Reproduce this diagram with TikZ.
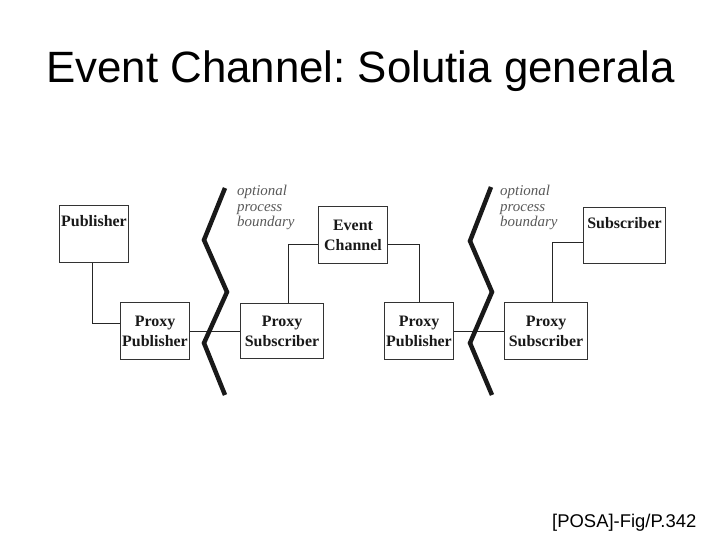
\documentclass[tikz,border=0pt]{standalone}
\usepackage{fontspec}
\setmainfont{Liberation Serif}
\newfontfamily\sansf{Liberation Sans}
\frenchspacing
\begin{document}
\begin{tikzpicture}[x=1bp,y=-1bp,
  box/.style={draw=black!80, line width=1.1pt, fill=white, inner sep=0pt, align=center,
    font=\fontsize{16}{20}\selectfont\bfseries, text=black!90},
  toptxt/.style={anchor=base, inner sep=0pt, font=\fontsize{16}{20}\selectfont\bfseries, text=black!90, yshift=-22pt},
  wire/.style={draw=black!85, line width=1pt},
  zz/.style={draw=black!90, line width=4.5pt, line join=miter},
  note/.style={anchor=north west, inner sep=0pt, align=left,
    font=\fontsize{15}{16}\selectfont\itshape, text=black!65},
]
\useasboundingbox (0,0) rectangle (720,540);
\node[anchor=base, inner sep=0pt, font=\sansf\fontsize{44}{48}\selectfont] (title) at (360.5,83) {Event Channel: Solutia generala};
\node[anchor=base west, inner sep=0pt, font=\sansf\fontsize{18.5}{20}\selectfont] (cap) at (552,527) {[POSA]-Fig/P.342};

\coordinate (pubc) at (94,234);
\coordinate (pp1c) at (155,331);
\coordinate (ps1c) at (282,331);
\coordinate (ecc) at (353,235);
\coordinate (pp2c) at (419,331);
\coordinate (ps2c) at (546,331);
\coordinate (subc) at (624.5,235.5);

\node[box, minimum width=70pt, minimum height=58pt,
  label={[toptxt]north:Publisher}] (pub) at (pubc) {};
\node[box, minimum width=70pt, minimum height=57pt] (pp1) at (pp1c) {Proxy\\Publisher};
\node[box, minimum width=84pt, minimum height=55pt] (ps1) at (ps1c) {Proxy\\Subscriber};
\node[box, minimum width=70pt, minimum height=58pt] (ec) at (ecc) {Event\\Channel};
\node[box, minimum width=70pt, minimum height=57pt] (pp2) at (pp2c) {Proxy\\Publisher};
\node[box, minimum width=84pt, minimum height=57pt] (ps2) at (ps2c) {Proxy\\Subscriber};
\node[box, minimum width=83pt, minimum height=57pt,
  label={[toptxt]north:Subscriber}] (sub) at (subc) {};

\draw[wire] ([xshift=-2pt]pub.south) |- ([yshift=8pt]pp1.west);
\draw[wire] (pp1.east) -- (ps1.west);
\draw[wire] ([yshift=-10pt]ec.west) -| ([xshift=7pt]ps1.north);
\draw[wire] ([yshift=-10pt]ec.east) -| (pp2.north);
\draw[wire] (pp2.east) -- (ps2.west);
\draw[wire] ([yshift=-7.5pt]sub.west) -| ([xshift=7pt]ps2.north);

\draw[zz] (225,188) -- (204,240) -- (227,292) -- (204,343) -- (225,395);
\draw[zz] (491,187) -- (470,241) -- (492,292) -- (470,343) -- (492,395);

\node[note] (n1) at (237,184.5) {optional\\process\\boundary};
\node[note] (n2) at (500,184.5) {optional\\process\\boundary};
\end{tikzpicture}
\end{document}
